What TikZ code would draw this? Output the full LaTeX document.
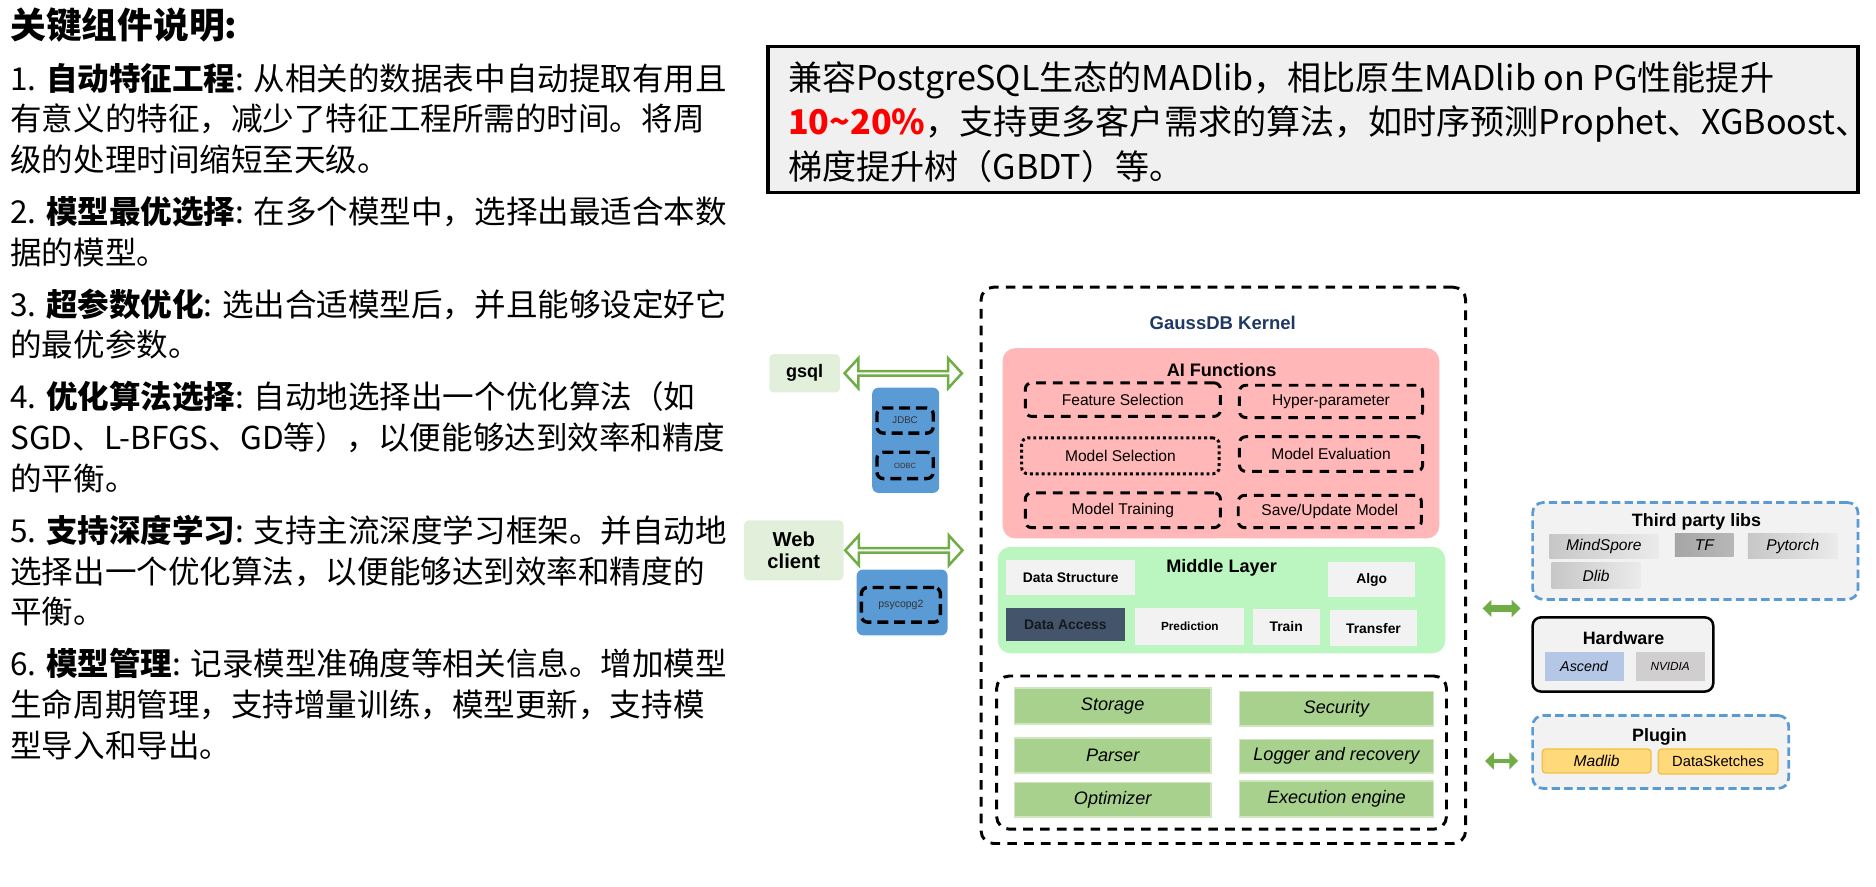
\documentclass[tikz,border=0pt]{standalone}
\usepackage{fontspec}
\setmainfont{Liberation Sans}
\newfontfamily\cjk{Noto Sans CJK SC}
\usetikzlibrary{arrows.meta}
\usetikzlibrary{shapes.arrows}
\usetikzlibrary{fit,calc}

\definecolor{aipink}{RGB}{255,183,183}
\definecolor{midgreen}{RGB}{187,246,193}
\definecolor{coregreen}{RGB}{169,209,142}
\definecolor{clientgreen}{RGB}{226,239,218}
\definecolor{drvblue}{RGB}{91,155,213}
\definecolor{accessgray}{RGB}{68,84,106}
\definecolor{linkgreen}{RGB}{112,173,71}
\definecolor{kernelnavy}{RGB}{32,56,100}
\definecolor{panelgray}{RGB}{242,242,242}
\definecolor{notegray}{RGB}{240,240,240}
\definecolor{ascendblue}{RGB}{180,199,231}
\definecolor{nvgray}{RGB}{208,206,206}
\definecolor{madyellow}{RGB}{255,217,122}
\definecolor{madedge}{RGB}{244,190,70}

\tikzset{>=latex}
\tikzstyle{notes} = [align=left, inner sep=0pt, font=\cjk\fontsize{7.5pt}{9.67pt}\selectfont]
\tikzstyle{notebox} = [draw, line width=0.8pt, fill=notegray, inner sep=0pt]
\tikzstyle{notetext} = [align=left, inner sep=0pt, font=\cjk\fontsize{8.1pt}{10.5pt}\selectfont]
\tikzstyle{kerneldash} = [draw, line width=0.7pt, dash pattern=on 2.3pt off 1.7pt, rounded corners=3pt, inner sep=0pt]
\tikzstyle{funcbox} = [kerneldash, rounded corners=1.5pt, font=\fontsize{3.7pt}{4.4pt}\selectfont]
\tikzstyle{funcdots} = [funcbox, dash pattern=on 0.7pt off 0.7pt]
\tikzstyle{layerpanel} = [inner sep=0pt, rounded corners=3pt]
\tikzstyle{layertitle} = [font=\bfseries\fontsize{4.3pt}{5pt}\selectfont]
\tikzstyle{midbox} = [fill=panelgray, inner sep=0pt, font=\bfseries\fontsize{3.3pt}{4pt}\selectfont]
\tikzstyle{corebox} = [fill=coregreen, draw=coregreen!55!white, line width=0.4pt, inner sep=0pt, font=\itshape\fontsize{4.3pt}{5pt}\selectfont]
\tikzstyle{client} = [fill=clientgreen, inner sep=0pt, rounded corners=1pt, align=center, font=\bfseries\fontsize{4.3pt}{5.2pt}\selectfont]
\tikzstyle{drvbox} = [fill=drvblue, inner sep=0pt, rounded corners=1.5pt]
\tikzstyle{drvdash} = [draw, line width=0.8pt, dash pattern=on 2.6pt off 1.4pt, rounded corners=1.5pt, inner sep=0pt, text=black!80]
\tikzstyle{hollowlink} = [double arrow, draw=linkgreen, line width=0.6pt, fill=white, inner sep=0pt,
                          minimum height=0.98cm, minimum width=0.25cm,
                          double arrow head extend=0.06cm, double arrow tip angle=95]
\tikzstyle{solidlink} = [draw=linkgreen, line width=1.6pt,
                         arrows={Triangle[length=2.1pt,width=4pt]-Triangle[length=2.1pt,width=4pt]}]
\tikzstyle{bluegroup} = [draw=drvblue, fill=panelgray, line width=0.65pt, dash pattern=on 2pt off 1pt, rounded corners=2.5pt, inner sep=0pt]
\tikzstyle{grouptitle} = [font=\bfseries\fontsize{4.25pt}{5pt}\selectfont]
\tikzstyle{lib} = [inner sep=0pt, left color=black!22, right color=black!8, font=\itshape\fontsize{3.7pt}{4.4pt}\selectfont]
\tikzstyle{chip} = [inner sep=0pt, font=\itshape\fontsize{3.4pt}{4pt}\selectfont]
\tikzstyle{plug} = [fill=madyellow, draw=madedge, line width=0.3pt, rounded corners=0.8pt, inner sep=0pt, font=\fontsize{3.5pt}{4.2pt}\selectfont]

\begin{document}
\begin{tikzpicture}[x=0.01cm, y=-0.01cm]
    \useasboundingbox (0,0) rectangle (1568,741);

    % notes on the left
    \node[anchor=west, inner sep=0pt, font=\cjk\bfseries\fontsize{8.5pt}{10pt}\selectfont] (notetitle) at (8,21) {关键组件说明:};
    \node[notes, anchor=north west] (notes) at (8,52) {%
        1. \textbf{自动特征工程}: 从相关的数据表中自动提取有用且\\%
        有意义的特征，减少了特征工程所需的时间。将周\\%
        级的处理时间缩短至天级。\\[2.7pt]%
        2. \textbf{模型最优选择}: 在多个模型中，选择出最适合本数\\%
        据的模型。\\[2.7pt]%
        3. \textbf{超参数优化}: 选出合适模型后，并且能够设定好它\\%
        的最优参数。\\[2.7pt]%
        4. \textbf{优化算法选择}: 自动地选择出一个优化算法（如\\%
        SGD、L-BFGS、GD等），以便能够达到效率和精度\\%
        的平衡。\\[2.7pt]%
        5. \textbf{支持深度学习}: 支持主流深度学习框架。并自动地\\%
        选择出一个优化算法，以便能够达到效率和精度的\\%
        平衡。\\[2.7pt]%
        6. \textbf{模型管理}: 记录模型准确度等相关信息。增加模型\\%
        生命周期管理，支持增量训练，模型更新，支持模\\%
        型导入和导出。};

    % MADlib note on top
    \node[notebox, fit={(642,39) (1553,161)}] (pgbox) {};
    \node[notetext, anchor=west] (pgtext) at (658,102) {%
        兼容PostgreSQL生态的MADlib，相比原生MADlib on PG性能提升\\%
        {\color{red}\bfseries 10\textasciitilde20\%}，支持更多客户需求的算法，如时序预测Prophet、XGBoost、\\%
        梯度提升树（GBDT）等。};

    % the kernel
    \node[kerneldash, fit={(820,240) (1225,705)}] (kernel) {};
    \node[font=\bfseries\fontsize{4.4pt}{5pt}\selectfont, text=kernelnavy] (kname) at (1022,270) {GaussDB Kernel};

    % AI functions
    \node[layerpanel, fill=aipink, fit={(838,291) (1203,450)}] (ai) {};
    \node[layertitle] (aititle) at (1021,309) {AI Functions};
    \node[funcbox,  minimum width=1.63cm, minimum height=.28cm] (featsel)  at (938.5,334)    {Feature Selection};
    \node[funcbox,  minimum width=1.53cm, minimum height=.27cm] (hyper)    at (1112.5,335.5) {Hyper-parameter};
    \node[funcdots, minimum width=1.65cm, minimum height=.30cm] (modsel)   at (936.5,381)    {Model Selection};
    \node[funcbox,  minimum width=1.53cm, minimum height=.29cm] (modeval)  at (1112.5,379.5) {Model Evaluation};
    \node[funcbox,  minimum width=1.63cm, minimum height=.29cm] (modtrain) at (938.5,426.5)  {Model Training};
    \node[funcbox,  minimum width=1.53cm, minimum height=.27cm] (modsave)  at (1111.5,427.5) {Save/Update Model};

    % middle layer
    \node[layerpanel, fill=midgreen, fit={(834,457) (1208,546)}] (mid) {};
    \node[layertitle] (midtitle) at (1021,475) {Middle Layer};
    \node[midbox, minimum width=1.08cm, minimum height=.29cm] (dstruct) at (895,482.5) {Data Structure};
    \node[midbox, minimum width=.73cm, minimum height=.29cm] (algo) at (1146.5,484.5) {Algo};
    \node[midbox, fill=accessgray, text=black!70!accessgray, minimum width=.99cm, minimum height=.28cm] (daccess) at (890.5,522) {Data Access};
    \node[midbox, font=\bfseries\fontsize{2.8pt}{3.4pt}\selectfont, minimum width=.91cm, minimum height=.31cm] (predict) at (994.5,523.5) {Prediction};
    \node[midbox, minimum width=.56cm, minimum height=.30cm] (train) at (1075,524) {Train};
    \node[midbox, minimum width=.72cm, minimum height=.30cm] (transfer) at (1148,525) {Transfer};

    % storage engine part
    \node[kerneldash, fit={(833,565) (1209,693)}] (core) {};
    \node[corebox, minimum width=1.64cm, minimum height=.30cm] (storage)   at (930,590)    {Storage};
    \node[corebox, minimum width=1.62cm, minimum height=.29cm] (security)  at (1117,592.5) {Security};
    \node[corebox, minimum width=1.64cm, minimum height=.29cm] (parser)    at (930,631.5)  {Parser};
    \node[corebox, minimum width=1.62cm, minimum height=.28cm] (logger)    at (1117,632)   {Logger and recovery};
    \node[corebox, minimum width=1.64cm, minimum height=.29cm] (optimizer) at (930,668.5)  {Optimizer};
    \node[corebox, minimum width=1.62cm, minimum height=.30cm] (exec)      at (1117,668)   {Execution engine};

    % clients and drivers
    \node[client, minimum width=.59cm, minimum height=.32cm] (gsql) at (672.5,312) {gsql};
    \node[client, font=\bfseries\fontsize{4.8pt}{5.2pt}\selectfont, minimum width=.83cm, minimum height=.50cm] (web) at (663.5,460) {Web\\client};
    \node[drvbox, fit={(729,324) (785,412)}] (jdbcgrp) {};
    \node[drvdash, font=\fontsize{2.3pt}{2.8pt}\selectfont, minimum width=.47cm, minimum height=.21cm] (jdbc) at (756.5,351.5) {JDBC};
    \node[drvdash, font=\fontsize{1.8pt}{2.2pt}\selectfont, minimum width=.47cm, minimum height=.22cm] (odbc) at (756.5,389) {ODBC};
    \node[drvbox, fit={(716,476) (792,531)}] (pygrp) {};
    \node[drvdash, font=\fontsize{2.5pt}{3pt}\selectfont, minimum width=.66cm, minimum height=.29cm] (psycopg) at (753,505.5) {psycopg2};

    \path (gsql.east) -- (kernel.west |- gsql.east) node[hollowlink, pos=.45] (gsqllink) {};
    \path (web.east) -- (kernel.west |- web.east) node[hollowlink, pos=.44] (weblink) {};

    % third party, hardware, plugin
    \node[bluegroup, fit={(1281,420) (1553,501)}] (thirdlibs) {};
    \node[grouptitle] (thirdtitle) at (1418,436) {Third party libs};
    \node[lib, minimum width=.91cm, minimum height=.20cm] (mindspore) at (1340.5,457) {MindSpore};
    \node[lib, left color=black!35, right color=black!28, minimum width=.49cm, minimum height=.19cm] (tf) at (1424.5,455.5) {TF};
    \node[lib, minimum width=.75cm, minimum height=.21cm] (pytorch) at (1498.5,456.5) {Pytorch};
    \node[lib, minimum width=.74cm, minimum height=.22cm] (dlib) at (1334,481) {Dlib};

    \node[draw, line width=0.6pt, fill=panelgray, rounded corners=2pt, inner sep=0pt, fit={(1281,516) (1432,578)}] (hardware) {};
    \node[grouptitle] (hwtitle) at (1357,533) {Hardware};
    \node[chip, fill=ascendblue, minimum width=.66cm, minimum height=.24cm] (ascend) at (1324,557) {Ascend};
    \node[chip, fill=nvgray, font=\itshape\fontsize{2.8pt}{3.4pt}\selectfont, minimum width=.58cm, minimum height=.24cm] (nvidia) at (1396,557) {NVIDIA};

    \node[bluegroup, fit={(1281,598) (1495,659)}] (plugin) {};
    \node[grouptitle] (plugtitle) at (1387,616) {Plugin};
    \node[plug, font=\itshape\fontsize{3.7pt}{4.4pt}\selectfont, minimum width=.91cm, minimum height=.20cm] (madlib) at (1334.5,636) {Madlib};
    \node[plug, minimum width=1.00cm, minimum height=.21cm] (sketches) at (1436,636.5) {DataSketches};

    \coordinate (libgap) at ($(thirdlibs.south west)!.5!(hardware.north west)$);
    \draw[solidlink, shorten <=0.13cm, shorten >=0.09cm] (kernel.east |- libgap) -- (libgap);
    \draw[solidlink, line width=1pt, shorten <=0.15cm, shorten >=0.11cm] (kernel.east |- madlib) -- (plugin.west |- madlib);

\end{tikzpicture}
\end{document}
